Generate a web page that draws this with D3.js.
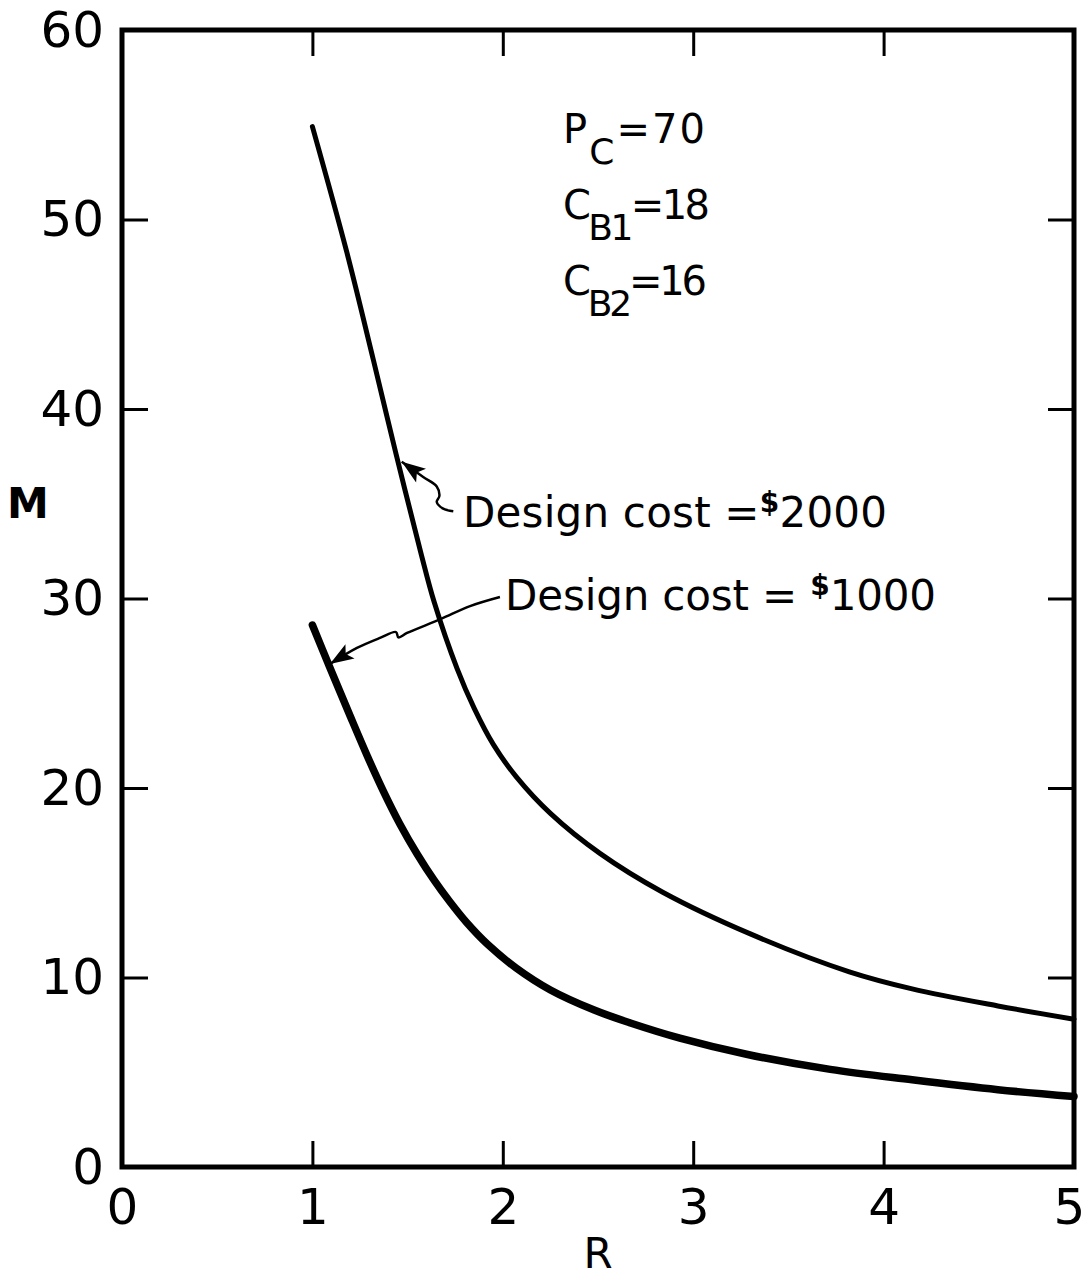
<!DOCTYPE html>
<html>
<head>
<meta charset="utf-8">
<script src="https://cdn.jsdelivr.net/npm/d3@7"></script>
<style>
  body { margin: 0; background: #fff; }
  svg { display: block; font-family: 'DejaVu Sans', sans-serif; }
</style>
</head>
<body>
<div id="chart"></div>
<script>
// values (R on x, M on y)
var r2000 = [1.00, 1.18, 1.32, 1.44, 1.57, 1.64, 1.76, 1.85, 1.95, 2.07, 2.25, 2.51, 2.84, 3.30, 3.82, 4.15, 4.60, 5.00]
var m2000 = [54.9, 48.3, 42.6, 37.6, 32.4, 29.8, 26.3, 24.2, 22.3, 20.6, 18.66, 16.55, 14.5, 12.3, 10.3, 9.4, 8.5, 7.8]

var r1000 = [1.00, 1.09, 1.20, 1.29, 1.37, 1.46, 1.55, 1.64, 1.72, 1.81, 1.92, 2.07, 2.25, 2.48, 2.67, 2.93, 3.28, 3.72, 4.15, 4.60, 5.00]
var m1000 = [28.6, 26.4, 23.76, 21.65, 19.89, 18.09, 16.52, 15.12, 14.02, 12.9, 11.75, 10.5, 9.34, 8.28, 7.6, 6.8, 5.95, 5.15, 4.6, 4.08, 3.72]

var xTicks = [0, 1, 2, 3, 4, 5]
var yTicks = [0, 10, 20, 30, 40, 50, 60]

var params = [
  {main: 'P', sub: 'C', val: '=70'},
  {main: 'C', sub: 'B1', val: '=18'},
  {main: 'C', sub: 'B2', val: '=16'},
]

// leader arrows, tip first, in data units
var arrow2000R = [1.469, 1.582, 1.653, 1.667, 1.653, 1.687, 1.740]
var arrow2000M = [37.22, 36.41, 35.91, 35.41, 35.10, 34.74, 34.60]
var arrow1000R = [1.092, 1.234, 1.355, 1.439, 1.452, 1.497, 1.675, 1.828, 1.985]
var arrow1000M = [26.54, 27.39, 27.92, 28.23, 27.95, 28.18, 28.92, 29.60, 30.08]

var width = 1087, height = 1278

var svg = d3.select('#chart').append('svg')
  .attr('width', width)
  .attr('height', height)

var x = d3.scaleLinear().domain([0, 5]).range([122, 1074])
var y = d3.scaleLinear().domain([0, 60]).range([1167, 30])

svg.append('defs').append('marker')
  .attr('id', 'head')
  .attr('viewBox', '0 -5 14 10')
  .attr('refX', 14)
  .attr('markerUnits', 'userSpaceOnUse')
  .attr('markerWidth', 27)
  .attr('markerHeight', 17)
  .attr('orient', 'auto-start-reverse')
  .append('path')
  .attr('d', 'M0,-5L14,0L0,5L3,0Z')
  .attr('fill', '#000')

// axes: ticks point inward on all four sides
var tick = 26
var fontSize = 50

svg.append('g')
  .attr('transform', `translate(0,${y(0)})`)
  .call(d3.axisBottom(x).tickValues(xTicks).tickSize(-tick).tickPadding(21).tickFormat(d3.format('d')))
  .selectAll('.tick text')
  .attr('dx', d => d == 5 ? -5 : 0)
svg.append('g')
  .attr('transform', `translate(0,${y(60)})`)
  .call(d3.axisTop(x).tickValues(xTicks).tickSize(-tick).tickFormat(''))
svg.append('g')
  .attr('transform', `translate(${x(0)},0)`)
  .call(d3.axisLeft(y).tickValues(yTicks).tickSize(-tick).tickPadding(18).tickFormat(d3.format('d')))
svg.append('g')
  .attr('transform', `translate(${x(5)},0)`)
  .call(d3.axisRight(y).tickValues(yTicks).tickSize(-tick).tickFormat(''))

svg.selectAll('.domain').remove()
svg.selectAll('.tick line').attr('stroke', '#000').attr('stroke-width', 3)
svg.selectAll('.tick text')
  .attr('fill', '#000')
  .attr('font-size', fontSize)
  .attr('font-family', 'DejaVu Sans, sans-serif')

svg.append('rect')
  .attr('x', x(0))
  .attr('y', y(60))
  .attr('width', x(5) - x(0))
  .attr('height', y(0) - y(60))
  .attr('fill', 'none')
  .attr('stroke', '#000')
  .attr('stroke-width', 5)

svg.append('text')
  .attr('x', 28).attr('y', 518)
  .attr('text-anchor', 'middle')
  .attr('font-size', 42).attr('font-weight', 'bold')
  .text('M')

svg.append('text')
  .attr('x', x(2.5)).attr('y', 1268)
  .attr('text-anchor', 'middle')
  .attr('font-size', 42)
  .text('R')

// curves
var line = d3.line()
  .x(d => x(d[0]))
  .y(d => y(d[1]))
  .curve(d3.curveCatmullRom.alpha(0.5))

svg.append('path')
  .datum(d3.zip(r2000, m2000))
  .attr('d', line)
  .attr('fill', 'none')
  .attr('stroke', '#000')
  .attr('stroke-width', 5)
  .attr('stroke-linecap', 'round')

svg.append('path')
  .datum(d3.zip(r1000, m1000))
  .attr('d', line)
  .attr('fill', 'none')
  .attr('stroke', '#000')
  .attr('stroke-width', 7.5)
  .attr('stroke-linecap', 'round')

// leader arrows
var leader = d3.line()
  .x(d => x(d[0]))
  .y(d => y(d[1]))
  .curve(d3.curveCatmullRom)

;[d3.zip(arrow2000R, arrow2000M), d3.zip(arrow1000R, arrow1000M)].forEach(pts => {
  svg.append('path')
    .datum(pts)
    .attr('d', leader)
    .attr('fill', 'none')
    .attr('stroke', '#000')
    .attr('stroke-width', 2.5)
    .attr('marker-start', 'url(#head)')
})

// labels
var costLabels = [
  {r: 1.791, m: 33.77, len: 424, pre: 'Design cost =', amount: '2000'},
  {r: 2.012, m: 29.39, len: 431, pre: 'Design cost = ', amount: '1000'},
]

costLabels.forEach(d => {
  var t = svg.append('text')
    .attr('x', x(d.r)).attr('y', y(d.m))
    .attr('font-size', 42)
    .attr('textLength', d.len)
    .attr('lengthAdjust', 'spacing')
  t.append('tspan').text(d.pre)
  t.append('tspan').attr('dy', -15).attr('font-size', 28).attr('font-weight', 'bold').text('$')
  t.append('tspan').attr('dy', 15).text(d.amount)
})

var lens = [142, 147, 144]
params.forEach((d, i) => {
  var t = svg.append('text')
    .attr('x', x(2.316)).attr('y', y(54.04) + i * 76)
    .attr('font-size', 40)
    .attr('textLength', lens[i])
    .attr('lengthAdjust', 'spacing')
  t.append('tspan').text(d.main)
  t.append('tspan').attr('dy', 21).attr('font-size', 36).text(d.sub)
  t.append('tspan').attr('dy', -21).text(d.val)
})
</script>
</body>
</html>
